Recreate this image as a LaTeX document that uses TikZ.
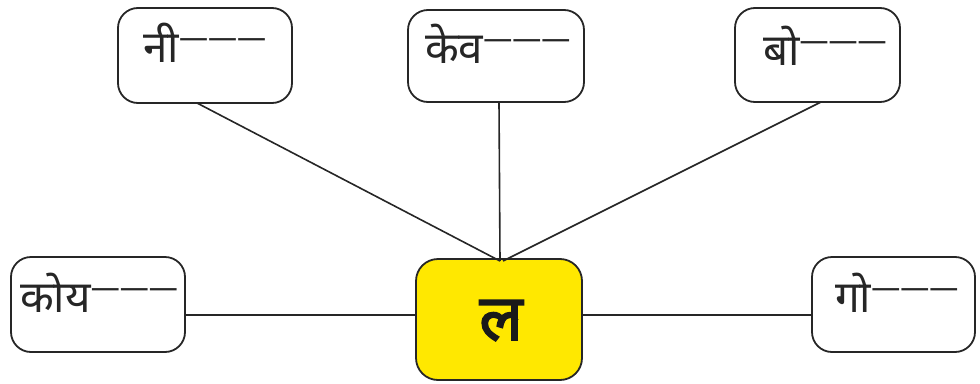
\documentclass[tikz,border=0pt]{standalone}
\usepackage{fontspec}
\newfontfamily\deva[Script=Devanagari]{Noto Sans}
\newfontfamily\devabold[Script=Devanagari,FakeBold=2.5]{Noto Sans}
\definecolor{boxyellow}{RGB}{255,232,0}
\begin{document}
\begin{tikzpicture}[x=1pt,y=-1pt,
  wordbox/.style={draw=black!85, line width=1.8pt, rounded corners=20pt},
  centerbox/.style={draw=black!85, line width=1.8pt, rounded corners=22pt, fill=boxyellow},
  word/.style={anchor=base west, inner sep=0pt, text=black!85, font=\deva\fontsize{44}{44}\selectfont},
  link/.style={draw=black!85, line width=1.6pt}]
\useasboundingbox (0,0) rectangle (980,383);
\newcommand{\blanks}{\raisebox{15pt}{\fontsize{29}{29}\selectfont ———}}
% boxes
\draw[wordbox] (118,8) rectangle (292,103) node[pos=0.5, inner sep=0pt] (b1) {};
\draw[wordbox] (408,10) rectangle (584,102) node[pos=0.5, inner sep=0pt] (b2) {};
\draw[wordbox] (735,8) rectangle (900,102) node[pos=0.5, inner sep=0pt] (b3) {};
\draw[wordbox] (11,257) rectangle (185,352) node[pos=0.5, inner sep=0pt] (b4) {};
\draw[wordbox] (812,257) rectangle (975,352) node[pos=0.5, inner sep=0pt] (b6) {};
\draw[centerbox] (416,259) rectangle (582,380) node[pos=0.5, inner sep=0pt] (c) {};
% anchors for connectors
\coordinate (b1s) at (197,103);
\coordinate (b2s) at (499,102);
\coordinate (b3s) at (821,102);
\coordinate (b4e) at (185,315);
\coordinate (b6w) at (812,315);
\coordinate (ctop) at (500,261);
\coordinate (ctop2) at (503,261);
\coordinate (cw) at (416,315);
\coordinate (ce) at (582,315);
\draw[link] (b1s) -- (ctop);
\draw[link] (b2s) -- (ctop);
\draw[link] (b3s) -- (ctop2);
\draw[link] (b4e) -- (cw);
\draw[link] (ce) -- (b6w);
% texts
\node[word] (t1) at (143,62) {नी\blanks};
\node[word] (t2) at (425,63) {केव\blanks};
\node[word] (t3) at (763,65) {बो\blanks};
\node[word] (t4) at (20,312) {कोय\blanks};
\node[word] (t6) at (835,312) {गो\blanks};
\node[anchor=base, inner sep=0pt, text=black!90, font=\devabold\fontsize{64}{64}\selectfont] (tc) at (501,340) {ल};
\end{tikzpicture}
\end{document}
